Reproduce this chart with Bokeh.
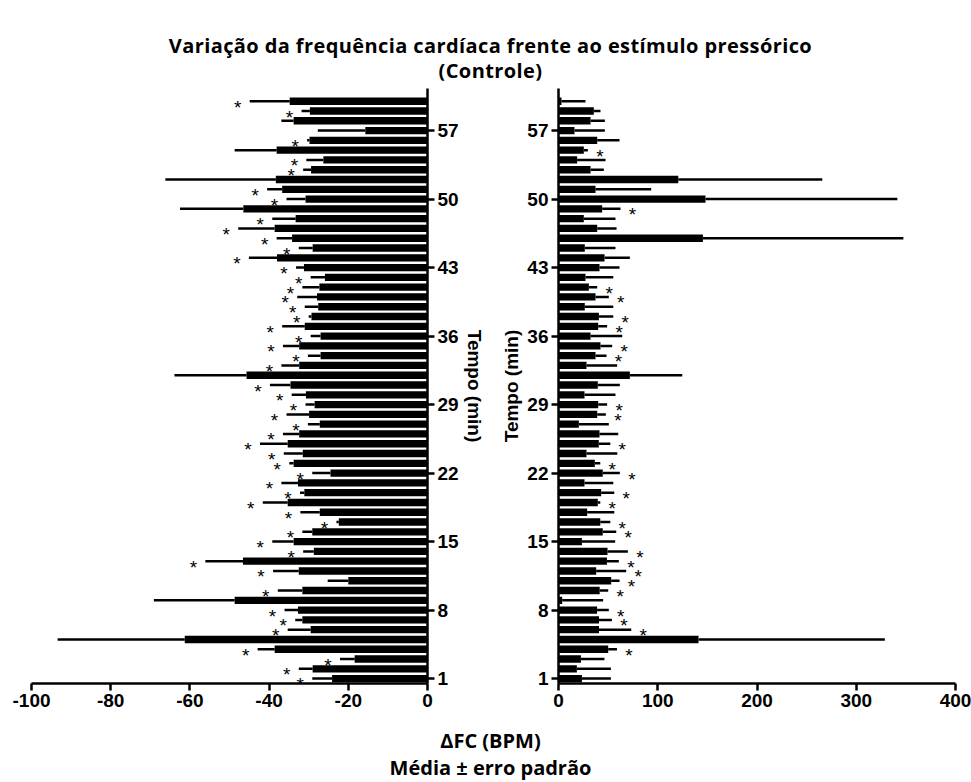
from bokeh.plotting import figure
from bokeh.models import ColumnDataSource, FixedTicker, Div, Range1d
from bokeh.layouts import column, row
from bokeh.embed import file_html
from bokeh.resources import INLINE
from bokeh.core.properties import value

# ---------------- data ----------------
minutes = list(range(1, 61))

# Left panel: decrease of heart rate (bpm), mean and SEM, significance flag
neg_mean = [-24.1, -29.0, -18.4, -38.6, -61.3, -29.5, -31.6, -32.7, -48.7, -31.6,
            -20.0, -32.5, -46.6, -28.7, -33.8, -29.1, -22.4, -27.2, -35.3, -31.1,
            -32.7, -24.5, -33.8, -31.5, -35.3, -32.4, -27.2, -29.9, -28.5, -30.7,
            -34.6, -45.7, -32.4, -27.0, -32.4, -27.0, -31.0, -29.3, -27.6, -27.9,
            -27.3, -25.9, -31.2, -38.0, -29.0, -34.2, -38.6, -33.3, -46.5, -30.8,
            -36.7, -38.3, -29.4, -26.3, -38.1, -29.8, -15.7, -33.8, -29.7, -34.8]
neg_sem = [5.0, 3.5, 3.7, 4.3, 32.1, 5.8, 1.8, 3.4, 20.4, 6.2,
           5.2, 6.5, 9.5, 2.7, 5.4, 2.5, 0.6, 4.9, 6.3, 1.1,
           4.2, 4.6, 1.1, 4.8, 7.0, 4.1, 3.0, 5.7, 2.3, 3.6,
           5.2, 18.2, 4.5, 3.2, 4.1, 2.5, 5.7, 0.7, 3.4, 5.0,
           4.3, 3.6, 2.0, 7.1, 3.5, 3.9, 9.2, 5.9, 16.0, 4.8,
           3.8, 27.9, 2.0, 4.3, 10.6, 0.6, 12.0, 3.1, 2.1, 10.1]
neg_sig = [1, 1, 1, 1, 0, 1, 1, 1, 0, 1,
           0, 1, 1, 1, 1, 1, 1, 1, 1, 1,
           1, 1, 1, 1, 1, 1, 1, 1, 1, 1,
           1, 0, 1, 1, 1, 1, 1, 1, 1, 1,
           1, 1, 1, 1, 1, 1, 1, 1, 0, 1,
           1, 0, 1, 1, 0, 1, 0, 0, 1, 1]

# Right panel: increase of heart rate (bpm)
pos_mean = [23.6, 18.5, 22.6, 50.1, 141.1, 40.8, 40.8, 38.9, 3.7, 41.5,
            53.1, 38.0, 48.8, 49.4, 23.6, 44.6, 42.1, 28.9, 39.6, 43.0,
            26.2, 44.6, 36.6, 28.2, 40.6, 41.3, 20.5, 39.0, 40.0, 26.2,
            39.6, 71.9, 28.2, 37.3, 42.3, 32.3, 40.0, 40.7, 26.5, 37.3,
            30.6, 27.2, 41.3, 46.4, 26.5, 145.5, 39.0, 25.5, 44.0, 148.1,
            37.3, 120.7, 32.3, 18.8, 25.5, 39.0, 16.1, 32.3, 35.6, 3.0]
pos_sem = [29.2, 34.3, 23.7, 8.8, 187.7, 32.5, 13.0, 11.8, 41.3, 8.6,
           8.4, 30.2, 12.0, 20.5, 33.5, 13.6, 10.1, 27.3, 2.5, 13.2,
           29.0, 17.2, 5.5, 31.1, 11.6, 18.9, 30.2, 8.7, 9.0, 31.2,
           22.2, 52.8, 30.9, 11.1, 11.8, 31.9, 9.0, 14.5, 28.7, 13.4,
           8.4, 28.0, 20.2, 25.5, 30.9, 202.0, 19.5, 31.9, 18.5, 193.3,
           56.1, 145.1, 13.4, 28.6, 4.1, 22.5, 30.6, 14.4, 6.7, 24.2]
pos_sig = [0, 0, 0, 1, 0, 1, 1, 1, 0, 1,
           1, 1, 1, 1, 0, 1, 1, 0, 1, 1,
           0, 1, 1, 0, 1, 0, 0, 1, 1, 0,
           0, 0, 0, 1, 1, 0, 1, 1, 0, 1,
           1, 0, 0, 0, 0, 0, 0, 0, 1, 0,
           0, 0, 0, 0, 1, 0, 0, 0, 0, 0]

y_ticks = [1, 8, 15, 22, 29, 36, 43, 50, 57]
neg_x_ticks = [-100, -80, -60, -40, -20, 0]
neg_x_labels = ["-100", "-80", "-60", "-40", "-20", "0"]
pos_x_ticks = [0, 100, 200, 300, 400]
pos_x_labels = ["0", "100", "200", "300", "400"]

title_line1 = "Variação da frequência cardíaca frente ao estímulo pressórico"
title_line2 = "(Controle)"
x_title1 = "ΔFC (BPM)"
x_title2 = "Média ± erro padrão"
y_title = "Tempo (min)"

TICK_FONT = "Liberation Sans"
TEXT_FONT = "Open Sans"


def style_axes(p):
    for ax in (p.xaxis[0], p.yaxis[0]):
        ax.axis_line_width = 2.5
        ax.axis_line_color = "black"
        ax.major_tick_line_width = 2.5
        ax.major_tick_line_color = "black"
        ax.major_tick_out = 7
        ax.major_tick_in = 0
        ax.minor_tick_line_color = None
        ax.major_label_text_font = TICK_FONT
        ax.major_label_text_font_style = "bold"
        ax.major_label_text_font_size = "19px"
        ax.major_label_text_color = "black"
        ax.axis_label_text_font = TICK_FONT
        ax.axis_label_text_font_style = "bold"
        ax.axis_label_text_font_size = "19px"
        ax.axis_label_text_color = "black"
    p.xaxis[0].major_label_standoff = 3
    p.yaxis[0].major_label_standoff = 3
    p.yaxis[0].axis_label = y_title
    p.yaxis[0].axis_label_standoff = 2
    p.yaxis[0].ticker = FixedTicker(ticks=y_ticks)
    p.xgrid.visible = False
    p.ygrid.visible = False
    p.outline_line_color = None


def make_panel(mean, sem, sig, side):
    if side == "left":
        err_end = [m - s for m, s in zip(mean, sem)]
        p = figure(width=490, height=640, x_range=Range1d(-100, 0),
                   y_range=Range1d(0.5, 61.3), y_axis_location="right",
                   min_border_left=31, min_border_right=63,
                   min_border_top=8, min_border_bottom=37,
                   output_backend="svg", toolbar_location=None)
        p.xaxis[0].ticker = FixedTicker(ticks=neg_x_ticks)
        p.xaxis[0].major_label_overrides = dict(zip(neg_x_ticks, neg_x_labels))
        star_off = -12
    else:
        err_end = [m + s for m, s in zip(mean, sem)]
        p = figure(width=481, height=640, x_range=Range1d(0, 400),
                   y_range=Range1d(0.5, 61.3), y_axis_location="left",
                   min_border_left=68, min_border_right=16,
                   min_border_top=8, min_border_bottom=37,
                   output_backend="svg", toolbar_location=None)
        p.xaxis[0].ticker = FixedTicker(ticks=pos_x_ticks)
        p.xaxis[0].major_label_overrides = dict(zip(pos_x_ticks, pos_x_labels))
        star_off = 12
    src = ColumnDataSource(dict(y=minutes, mean=mean, err=err_end))
    p.segment(x0="mean", y0="y", x1="err", y1="y", source=src,
              line_color="black", line_width=2.5)
    p.hbar(y="y", left=0, right="mean", height=0.75, source=src,
           fill_color="black", line_color=None)
    sy = [y for y, s in zip(minutes, sig) if s]
    sx = [e for e, s in zip(err_end, sig) if s]
    ssrc = ColumnDataSource(dict(x=sx, y=sy, t=["*"] * len(sx)))
    p.text(x="x", y="y", text="t", source=ssrc, x_offset=star_off, y_offset=6,
           text_align="center", text_baseline="middle",
           text_font=value(TICK_FONT), text_font_size="19px", text_color="black")
    style_axes(p)
    return p


p_left = make_panel(neg_mean, neg_sem, neg_sig, "left")
p_right = make_panel(pos_mean, pos_sem, pos_sig, "right")

title_div = Div(
    text=(f'<div style="width:971px;text-align:center;font-family:\'{TEXT_FONT}\';'
          f'font-weight:bold;font-size:20px;line-height:25px;padding-top:33px;'
          f'letter-spacing:0.4px;padding-left:10px;box-sizing:border-box;color:black;">'
          f'{title_line1}<br>{title_line2}</div>'),
    width=971, height=80, margin=0)
bottom_div = Div(
    text=(f'<div style="width:971px;text-align:center;font-family:\'{TEXT_FONT}\';'
          f'font-weight:bold;font-size:20px;line-height:27px;padding-top:7px;'
          f'padding-left:10px;box-sizing:border-box;color:black;">'
          f'{x_title1}<br>{x_title2}</div>'),
    width=971, height=62, margin=0)

layout = column(title_div, row(p_left, p_right, spacing=0), bottom_div, spacing=0)

with open("out.html", "w") as f:
    f.write(file_html(layout, INLINE))
